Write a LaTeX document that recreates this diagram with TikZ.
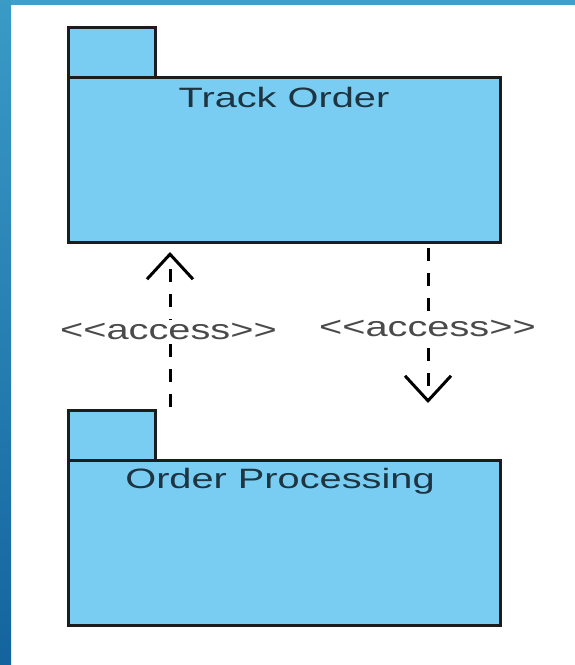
\documentclass[tikz,border=0pt]{standalone}
\usepackage{fontspec}
\setmainfont{Liberation Sans}
\usetikzlibrary{arrows.meta}
\definecolor{pkgfill}{HTML}{7ACDF2}
\definecolor{pkgline}{HTML}{1C1C1C}
\definecolor{pkgtext}{HTML}{1E3440}
\definecolor{labtext}{HTML}{4A4A4A}
\definecolor{frametop}{HTML}{3FA0CB}
\definecolor{frameleftA}{HTML}{3A9BC6}
\definecolor{frameleftB}{HTML}{13649E}
\tikzset{
  pkgbody/.style={draw=pkgline, fill=pkgfill, line width=3pt, rectangle, inner sep=0pt, outer sep=0pt, minimum width=432pt, minimum height=165pt, anchor=north west},
  pkgtab/.style={draw=pkgline, fill=pkgfill, line width=3pt, rectangle, inner sep=0pt, outer sep=0pt, minimum width=87pt, minimum height=50pt, anchor=south west},
  pkgname/.style={text=pkgtext, font=\fontsize{28pt}{30pt}\selectfont, anchor=base, inner sep=0pt},
  acclabel/.style={text=labtext, font=\fontsize{28pt}{30pt}\selectfont, fill=white, inner sep=3pt},
  dep/.style={draw=black, line width=3pt, dash pattern=on 13pt off 12pt, -{Straight Barb[length=25pt,width=46pt]}}
}
\newcommand{\stretchtext}[1]{\scalebox{1.42}[1]{#1}}
\newcommand{\accesstext}{\textless\kern0pt\textless\kern0pt access\kern0pt\textgreater\kern0pt\textgreater}
\begin{document}
\begin{tikzpicture}[x=1pt,y=-1pt]
\useasboundingbox (0,0) rectangle (575,665);
\fill[white] (0,0) rectangle (575,665);
\fill[frametop] (0,0) rectangle (575,5);
\shade[top color=frameleftA, bottom color=frameleftB] (0,0) rectangle (11,665);
% Track Order package
\node[pkgbody] (track) at (68,77) {};
\node[pkgtab] (tracktab) at (track.north west) {};
\node[pkgname] (trackname) at ([yshift=-30pt]track.north) {\stretchtext{Track Order}};
% Order Processing package
\node[pkgbody] (proc) at (68,460) {};
\node[pkgtab] (proctab) at (proc.north west) {};
\node[pkgname] (procname) at ([xshift=-4pt,yshift=-28pt]proc.north) {\stretchtext{Order Processing}};
% connectors
\coordinate (lx) at (170,0);
\coordinate (rx) at (428,0);
\draw[dep, shorten <=3pt, shorten >=10pt] (lx |- proctab.north) -- (lx |- track.south);
\draw[dep, shorten <=6pt, shorten >=7pt] (rx |- track.south) -- (rx |- proctab.north);
\node[acclabel] (lacc) at (168.5,331) {\stretchtext{\accesstext}};
\node[acclabel] (racc) at (427.5,328) {\stretchtext{\accesstext}};
\end{tikzpicture}
\end{document}
